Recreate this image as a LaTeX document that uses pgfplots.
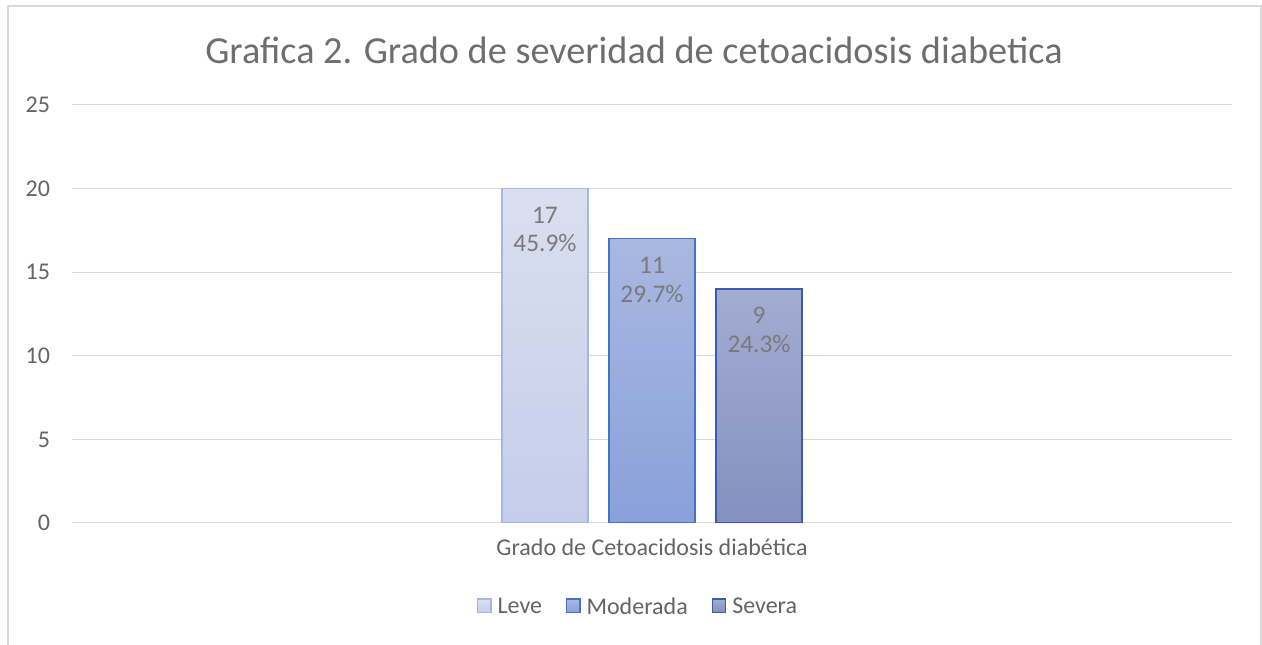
\documentclass[border=0pt]{standalone}
\usepackage{fontspec}
\setmainfont{Carlito}
\usepackage{pgfplots}
\pgfplotsset{compat=1.18}
\definecolor{txt}{HTML}{646464}
\definecolor{ttl}{HTML}{6E6E6E}
\definecolor{lbl}{HTML}{7A7A7A}
\definecolor{gridc}{HTML}{D9D9D9}
\definecolor{leveT}{HTML}{DADFF0}
\definecolor{leveB}{HTML}{C4CDEA}
\definecolor{leveD}{HTML}{A9B7E0}
\definecolor{modT}{HTML}{A9B8E1}
\definecolor{modB}{HTML}{89A0D9}
\definecolor{modD}{HTML}{4472C4}
\definecolor{sevT}{HTML}{A3ACD1}
\definecolor{sevB}{HTML}{8490C0}
\definecolor{sevD}{HTML}{3B5DA9}
\begin{document}
\begin{tikzpicture}
\path[use as bounding box] (0,0) rectangle (946.5pt,483.75pt);
\draw[gridc, line width=0.9pt] (6pt,-2pt) -- (6pt,479.25pt) -- (945.75pt,479.25pt) -- (945.75pt,-2pt);
\node[text=ttl, font=\fontsize{28.7}{34}\selectfont] at (475.5pt,446.25pt) {Grafica 2. Grado de severidad de cetoacidosis diabetica};
\begin{axis}[
  at={(54pt,91.5pt)}, anchor=south west,
  scale only axis, width=870pt, height=313.5pt,
  xmin=-5.42, xmax=5.42, ymin=0, ymax=25,
  ytick={0,5,...,25},
  xtick={0}, xticklabels={Grado de Cetoacidosis diabética},
  axis line style={draw=none},
  ymajorgrids, grid style={gridc, line width=0.75pt},
  major tick length=0pt,
  /pgf/number format/assume math mode=true,
  tick label style={text=txt, font=\fontsize{18}{21}\selectfont},
  yticklabel style={xshift=-13pt},
  xticklabel style={yshift=-8pt},
  ybar, bar width=0.804,
  every node near coord/.append style={anchor=north, align=center, text=lbl, font=\fontsize{19}{21.5}\selectfont, yshift=-10pt},
  legend style={at={(0.4897,-0.201)}, anchor=center, draw=none, fill=none, text=txt, font=\fontsize{18}{21}\selectfont, legend columns=3,
    /tikz/every even column/.append style={column sep=13.5pt},
    nodes={inner xsep=4.5pt}},
  legend image code/.code={\draw[#1, line width=0.9pt] (0pt,-4pt) rectangle (10pt,6pt);},
]
\addplot[bar shift=0pt, draw=leveD, line width=0.9pt, top color=leveT, bottom color=leveB, nodes near coords={17\\45.9\%}] coordinates {(-1,20)};
\addplot[bar shift=0pt, draw=modD, line width=0.9pt, top color=modT, bottom color=modB, nodes near coords={11\\29.7\%}] coordinates {(0,17)};
\addplot[bar shift=0pt, draw=sevD, line width=0.9pt, top color=sevT, bottom color=sevB, nodes near coords={9\\24.3\%}] coordinates {(1,14)};
\legend{Leve, Moderada, Severa}
\end{axis}
\end{tikzpicture}
\end{document}
